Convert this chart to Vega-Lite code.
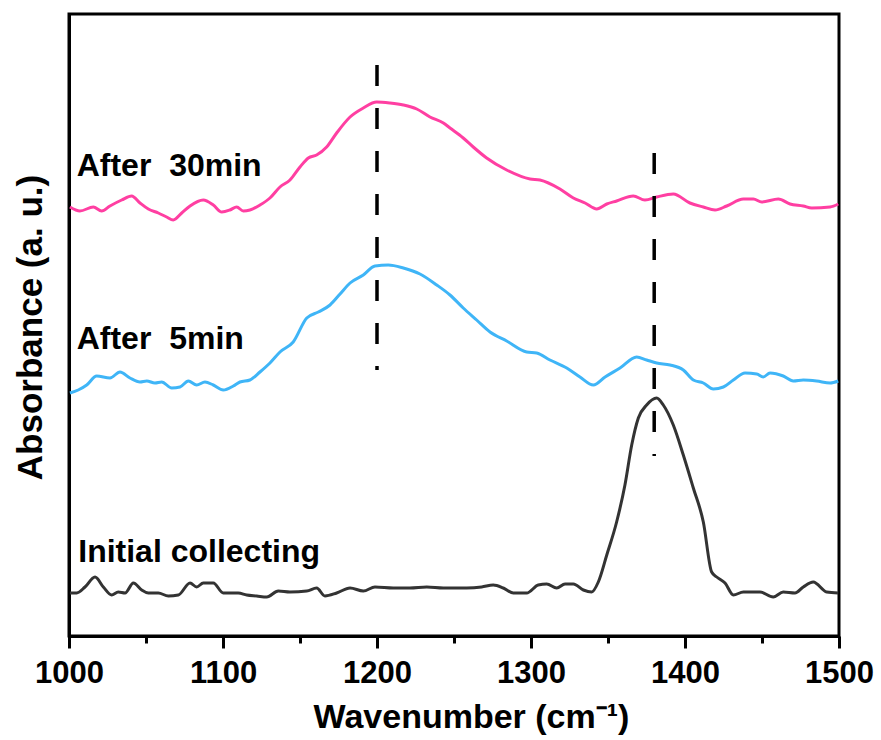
{
  "$schema": "https://vega.github.io/schema/vega-lite/v6.json",
  "width": 770,
  "height": 622,
  "autosize": "none",
  "padding": {"left": 69, "top": 14, "right": 42, "bottom": 104},
  "background": "white",
  "config": {"view": {"stroke": "black", "strokeWidth": 3}, "font": "Liberation Sans"},
  "datasets": {
    "spectra": [
      {"series": "After 30min", "wn": 1000.6, "a": 4.29},
      {"series": "After 30min", "wn": 1007.1, "a": 4.25},
      {"series": "After 30min", "wn": 1015.8, "a": 4.29},
      {"series": "After 30min", "wn": 1021.2, "a": 4.25},
      {"series": "After 30min", "wn": 1026.6, "a": 4.30},
      {"series": "After 30min", "wn": 1034.2, "a": 4.36},
      {"series": "After 30min", "wn": 1040.7, "a": 4.40},
      {"series": "After 30min", "wn": 1046.1, "a": 4.33},
      {"series": "After 30min", "wn": 1051.5, "a": 4.27},
      {"series": "After 30min", "wn": 1058.0, "a": 4.23},
      {"series": "After 30min", "wn": 1063.4, "a": 4.19},
      {"series": "After 30min", "wn": 1067.7, "a": 4.16},
      {"series": "After 30min", "wn": 1073.2, "a": 4.23},
      {"series": "After 30min", "wn": 1078.6, "a": 4.30},
      {"series": "After 30min", "wn": 1087.2, "a": 4.36},
      {"series": "After 30min", "wn": 1093.7, "a": 4.31},
      {"series": "After 30min", "wn": 1099.2, "a": 4.24},
      {"series": "After 30min", "wn": 1104.5, "a": 4.26},
      {"series": "After 30min", "wn": 1108.9, "a": 4.29},
      {"series": "After 30min", "wn": 1113.2, "a": 4.25},
      {"series": "After 30min", "wn": 1117.5, "a": 4.26},
      {"series": "After 30min", "wn": 1124.0, "a": 4.31},
      {"series": "After 30min", "wn": 1130.5, "a": 4.38},
      {"series": "After 30min", "wn": 1137.0, "a": 4.49},
      {"series": "After 30min", "wn": 1143.5, "a": 4.56},
      {"series": "After 30min", "wn": 1150.0, "a": 4.69},
      {"series": "After 30min", "wn": 1155.4, "a": 4.78},
      {"series": "After 30min", "wn": 1160.8, "a": 4.81},
      {"series": "After 30min", "wn": 1167.3, "a": 4.89},
      {"series": "After 30min", "wn": 1173.8, "a": 5.03},
      {"series": "After 30min", "wn": 1182.5, "a": 5.19},
      {"series": "After 30min", "wn": 1191.1, "a": 5.28},
      {"series": "After 30min", "wn": 1199.8, "a": 5.34},
      {"series": "After 30min", "wn": 1208.4, "a": 5.33},
      {"series": "After 30min", "wn": 1217.1, "a": 5.31},
      {"series": "After 30min", "wn": 1225.8, "a": 5.27},
      {"series": "After 30min", "wn": 1234.4, "a": 5.19},
      {"series": "After 30min", "wn": 1243.1, "a": 5.13},
      {"series": "After 30min", "wn": 1247.4, "a": 5.08},
      {"series": "After 30min", "wn": 1256.0, "a": 4.98},
      {"series": "After 30min", "wn": 1262.5, "a": 4.89},
      {"series": "After 30min", "wn": 1271.2, "a": 4.78},
      {"series": "After 30min", "wn": 1284.2, "a": 4.66},
      {"series": "After 30min", "wn": 1299.4, "a": 4.57},
      {"series": "After 30min", "wn": 1305.8, "a": 4.56},
      {"series": "After 30min", "wn": 1318.8, "a": 4.47},
      {"series": "After 30min", "wn": 1327.5, "a": 4.38},
      {"series": "After 30min", "wn": 1335.1, "a": 4.33},
      {"series": "After 30min", "wn": 1342.7, "a": 4.27},
      {"series": "After 30min", "wn": 1349.2, "a": 4.32},
      {"series": "After 30min", "wn": 1355.6, "a": 4.35},
      {"series": "After 30min", "wn": 1366.4, "a": 4.40},
      {"series": "After 30min", "wn": 1374.0, "a": 4.36},
      {"series": "After 30min", "wn": 1381.6, "a": 4.39},
      {"series": "After 30min", "wn": 1392.4, "a": 4.42},
      {"series": "After 30min", "wn": 1403.2, "a": 4.33},
      {"series": "After 30min", "wn": 1411.9, "a": 4.29},
      {"series": "After 30min", "wn": 1419.5, "a": 4.26},
      {"series": "After 30min", "wn": 1427.1, "a": 4.30},
      {"series": "After 30min", "wn": 1437.9, "a": 4.37},
      {"series": "After 30min", "wn": 1444.4, "a": 4.37},
      {"series": "After 30min", "wn": 1449.8, "a": 4.34},
      {"series": "After 30min", "wn": 1460.6, "a": 4.37},
      {"series": "After 30min", "wn": 1468.2, "a": 4.32},
      {"series": "After 30min", "wn": 1476.8, "a": 4.30},
      {"series": "After 30min", "wn": 1482.3, "a": 4.28},
      {"series": "After 30min", "wn": 1494.2, "a": 4.29},
      {"series": "After 30min", "wn": 1499.5, "a": 4.32},

      {"series": "After 5min", "wn": 1000.6, "a": 2.43},
      {"series": "After 5min", "wn": 1006.0, "a": 2.46},
      {"series": "After 5min", "wn": 1011.5, "a": 2.51},
      {"series": "After 5min", "wn": 1018.0, "a": 2.60},
      {"series": "After 5min", "wn": 1026.6, "a": 2.58},
      {"series": "After 5min", "wn": 1033.1, "a": 2.64},
      {"series": "After 5min", "wn": 1039.6, "a": 2.58},
      {"series": "After 5min", "wn": 1046.1, "a": 2.54},
      {"series": "After 5min", "wn": 1050.5, "a": 2.55},
      {"series": "After 5min", "wn": 1055.8, "a": 2.53},
      {"series": "After 5min", "wn": 1060.2, "a": 2.54},
      {"series": "After 5min", "wn": 1066.7, "a": 2.48},
      {"series": "After 5min", "wn": 1072.1, "a": 2.49},
      {"series": "After 5min", "wn": 1077.5, "a": 2.55},
      {"series": "After 5min", "wn": 1082.9, "a": 2.51},
      {"series": "After 5min", "wn": 1088.3, "a": 2.54},
      {"series": "After 5min", "wn": 1093.7, "a": 2.51},
      {"series": "After 5min", "wn": 1100.2, "a": 2.46},
      {"series": "After 5min", "wn": 1106.7, "a": 2.50},
      {"series": "After 5min", "wn": 1111.0, "a": 2.54},
      {"series": "After 5min", "wn": 1117.5, "a": 2.56},
      {"series": "After 5min", "wn": 1124.0, "a": 2.64},
      {"series": "After 5min", "wn": 1130.5, "a": 2.73},
      {"series": "After 5min", "wn": 1137.0, "a": 2.84},
      {"series": "After 5min", "wn": 1145.6, "a": 2.94},
      {"series": "After 5min", "wn": 1154.4, "a": 3.18},
      {"series": "After 5min", "wn": 1161.9, "a": 3.24},
      {"series": "After 5min", "wn": 1169.5, "a": 3.31},
      {"series": "After 5min", "wn": 1176.0, "a": 3.42},
      {"series": "After 5min", "wn": 1182.5, "a": 3.53},
      {"series": "After 5min", "wn": 1191.1, "a": 3.61},
      {"series": "After 5min", "wn": 1198.7, "a": 3.70},
      {"series": "After 5min", "wn": 1207.3, "a": 3.71},
      {"series": "After 5min", "wn": 1217.1, "a": 3.68},
      {"series": "After 5min", "wn": 1227.9, "a": 3.62},
      {"series": "After 5min", "wn": 1238.8, "a": 3.51},
      {"series": "After 5min", "wn": 1247.4, "a": 3.41},
      {"series": "After 5min", "wn": 1256.0, "a": 3.28},
      {"series": "After 5min", "wn": 1264.7, "a": 3.16},
      {"series": "After 5min", "wn": 1273.4, "a": 3.04},
      {"series": "After 5min", "wn": 1284.2, "a": 2.95},
      {"series": "After 5min", "wn": 1297.2, "a": 2.84},
      {"series": "After 5min", "wn": 1303.7, "a": 2.83},
      {"series": "After 5min", "wn": 1312.3, "a": 2.76},
      {"series": "After 5min", "wn": 1323.2, "a": 2.68},
      {"series": "After 5min", "wn": 1331.8, "a": 2.59},
      {"series": "After 5min", "wn": 1340.5, "a": 2.51},
      {"series": "After 5min", "wn": 1348.1, "a": 2.59},
      {"series": "After 5min", "wn": 1357.8, "a": 2.68},
      {"series": "After 5min", "wn": 1368.6, "a": 2.79},
      {"series": "After 5min", "wn": 1375.1, "a": 2.76},
      {"series": "After 5min", "wn": 1381.6, "a": 2.73},
      {"series": "After 5min", "wn": 1390.3, "a": 2.71},
      {"series": "After 5min", "wn": 1398.9, "a": 2.66},
      {"series": "After 5min", "wn": 1405.4, "a": 2.56},
      {"series": "After 5min", "wn": 1411.9, "a": 2.53},
      {"series": "After 5min", "wn": 1418.4, "a": 2.47},
      {"series": "After 5min", "wn": 1424.9, "a": 2.49},
      {"series": "After 5min", "wn": 1431.4, "a": 2.56},
      {"series": "After 5min", "wn": 1439.0, "a": 2.63},
      {"series": "After 5min", "wn": 1446.6, "a": 2.62},
      {"series": "After 5min", "wn": 1450.8, "a": 2.59},
      {"series": "After 5min", "wn": 1455.2, "a": 2.63},
      {"series": "After 5min", "wn": 1463.8, "a": 2.60},
      {"series": "After 5min", "wn": 1470.3, "a": 2.55},
      {"series": "After 5min", "wn": 1476.8, "a": 2.56},
      {"series": "After 5min", "wn": 1485.5, "a": 2.55},
      {"series": "After 5min", "wn": 1494.2, "a": 2.53},
      {"series": "After 5min", "wn": 1499.5, "a": 2.55},

      {"series": "Initial collecting", "wn": 1000.6, "a": 0.43},
      {"series": "Initial collecting", "wn": 1005.0, "a": 0.43},
      {"series": "Initial collecting", "wn": 1010.4, "a": 0.49},
      {"series": "Initial collecting", "wn": 1016.9, "a": 0.59},
      {"series": "Initial collecting", "wn": 1022.3, "a": 0.49},
      {"series": "Initial collecting", "wn": 1027.7, "a": 0.41},
      {"series": "Initial collecting", "wn": 1032.0, "a": 0.44},
      {"series": "Initial collecting", "wn": 1036.4, "a": 0.43},
      {"series": "Initial collecting", "wn": 1041.8, "a": 0.53},
      {"series": "Initial collecting", "wn": 1047.2, "a": 0.46},
      {"series": "Initial collecting", "wn": 1051.5, "a": 0.43},
      {"series": "Initial collecting", "wn": 1058.0, "a": 0.43},
      {"series": "Initial collecting", "wn": 1064.5, "a": 0.40},
      {"series": "Initial collecting", "wn": 1071.0, "a": 0.41},
      {"series": "Initial collecting", "wn": 1078.6, "a": 0.53},
      {"series": "Initial collecting", "wn": 1082.9, "a": 0.49},
      {"series": "Initial collecting", "wn": 1087.2, "a": 0.53},
      {"series": "Initial collecting", "wn": 1093.7, "a": 0.53},
      {"series": "Initial collecting", "wn": 1100.2, "a": 0.43},
      {"series": "Initial collecting", "wn": 1109.9, "a": 0.43},
      {"series": "Initial collecting", "wn": 1115.4, "a": 0.41},
      {"series": "Initial collecting", "wn": 1121.9, "a": 0.40},
      {"series": "Initial collecting", "wn": 1128.4, "a": 0.39},
      {"series": "Initial collecting", "wn": 1135.9, "a": 0.45},
      {"series": "Initial collecting", "wn": 1143.5, "a": 0.44},
      {"series": "Initial collecting", "wn": 1154.4, "a": 0.45},
      {"series": "Initial collecting", "wn": 1160.8, "a": 0.48},
      {"series": "Initial collecting", "wn": 1166.2, "a": 0.40},
      {"series": "Initial collecting", "wn": 1173.8, "a": 0.43},
      {"series": "Initial collecting", "wn": 1182.5, "a": 0.48},
      {"series": "Initial collecting", "wn": 1191.1, "a": 0.45},
      {"series": "Initial collecting", "wn": 1198.7, "a": 0.49},
      {"series": "Initial collecting", "wn": 1210.6, "a": 0.48},
      {"series": "Initial collecting", "wn": 1221.4, "a": 0.48},
      {"series": "Initial collecting", "wn": 1232.3, "a": 0.49},
      {"series": "Initial collecting", "wn": 1243.1, "a": 0.48},
      {"series": "Initial collecting", "wn": 1258.2, "a": 0.48},
      {"series": "Initial collecting", "wn": 1268.0, "a": 0.49},
      {"series": "Initial collecting", "wn": 1275.5, "a": 0.51},
      {"series": "Initial collecting", "wn": 1282.0, "a": 0.48},
      {"series": "Initial collecting", "wn": 1288.5, "a": 0.43},
      {"series": "Initial collecting", "wn": 1297.2, "a": 0.43},
      {"series": "Initial collecting", "wn": 1304.7, "a": 0.51},
      {"series": "Initial collecting", "wn": 1310.2, "a": 0.52},
      {"series": "Initial collecting", "wn": 1316.7, "a": 0.48},
      {"series": "Initial collecting", "wn": 1322.1, "a": 0.52},
      {"series": "Initial collecting", "wn": 1327.5, "a": 0.52},
      {"series": "Initial collecting", "wn": 1334.0, "a": 0.46},
      {"series": "Initial collecting", "wn": 1339.4, "a": 0.44},
      {"series": "Initial collecting", "wn": 1343.7, "a": 0.54},
      {"series": "Initial collecting", "wn": 1349.2, "a": 0.81},
      {"series": "Initial collecting", "wn": 1355.6, "a": 1.14},
      {"series": "Initial collecting", "wn": 1361.0, "a": 1.51},
      {"series": "Initial collecting", "wn": 1365.4, "a": 1.91},
      {"series": "Initial collecting", "wn": 1369.7, "a": 2.18},
      {"series": "Initial collecting", "wn": 1375.1, "a": 2.31},
      {"series": "Initial collecting", "wn": 1381.6, "a": 2.38},
      {"series": "Initial collecting", "wn": 1385.9, "a": 2.31},
      {"series": "Initial collecting", "wn": 1392.4, "a": 2.11},
      {"series": "Initial collecting", "wn": 1398.9, "a": 1.81},
      {"series": "Initial collecting", "wn": 1405.4, "a": 1.48},
      {"series": "Initial collecting", "wn": 1411.9, "a": 1.14},
      {"series": "Initial collecting", "wn": 1417.3, "a": 0.64},
      {"series": "Initial collecting", "wn": 1420.6, "a": 0.59},
      {"series": "Initial collecting", "wn": 1426.0, "a": 0.53},
      {"series": "Initial collecting", "wn": 1431.4, "a": 0.41},
      {"series": "Initial collecting", "wn": 1437.9, "a": 0.44},
      {"series": "Initial collecting", "wn": 1448.7, "a": 0.44},
      {"series": "Initial collecting", "wn": 1457.3, "a": 0.39},
      {"series": "Initial collecting", "wn": 1463.8, "a": 0.44},
      {"series": "Initial collecting", "wn": 1471.4, "a": 0.43},
      {"series": "Initial collecting", "wn": 1476.8, "a": 0.49},
      {"series": "Initial collecting", "wn": 1483.3, "a": 0.54},
      {"series": "Initial collecting", "wn": 1492.0, "a": 0.44},
      {"series": "Initial collecting", "wn": 1499.5, "a": 0.43}
    ],
    "markers": [
      {"wn": 1200, "top": 5.71, "bottom": 2.66},
      {"wn": 1380, "top": 4.83, "bottom": 1.80}
    ],
    "labels": [
      {"label": "After\u00a0 30min", "wn": 1005, "a": 4.60},
      {"label": "After\u00a0 5min", "wn": 1005, "a": 2.87},
      {"label": "Initial collecting", "wn": 1006, "a": 0.74}
    ]
  },
  "layer": [
    {
      "data": {"name": "spectra"},
      "mark": {"type": "line", "strokeWidth": 3, "interpolate": "monotone"},
      "encoding": {
        "x": {
          "field": "wn", "type": "quantitative",
          "scale": {"domain": [1000, 1500], "nice": false, "zero": false},
          "axis": {
            "title": "Wavenumber (cm⁻¹)",
            "values": [1000, 1050, 1100, 1150, 1200, 1250, 1300, 1350, 1400, 1450, 1500],
            "format": "d",
            "labelExpr": "datum.value % 100 === 0 ? datum.label : ''",
            "tickSize": {"condition": {"test": "datum.value % 100 === 0", "value": 12}, "value": 7},
            "tickWidth": 3, "tickColor": "black",
            "domainColor": "black", "domainWidth": 3,
            "grid": false, "labelFlush": false, "labelOverlap": false,
            "labelFont": "Liberation Sans", "labelFontWeight": "bold", "labelFontSize": 31,
            "labelColor": "black", "labelPadding": 10,
            "titleFont": "Liberation Sans", "titleFontWeight": "bold", "titleFontSize": 34,
            "titleColor": "black", "titleX": 402, "titleY": 91,
            "titleBaseline": "alphabetic", "titleAlign": "center"
          }
        },
        "y": {
          "field": "a", "type": "quantitative",
          "scale": {"domain": [0, 6.22], "nice": false, "zero": false},
          "axis": {
            "title": "Absorbance (a. u.)",
            "ticks": false, "labels": false, "grid": false,
            "domainColor": "black", "domainWidth": 3,
            "titleFont": "Liberation Sans", "titleFontWeight": "bold", "titleFontSize": 35,
            "titleColor": "black", "titleX": -39, "titleY": 313, "titleAngle": -90,
            "titleBaseline": "middle", "titleAlign": "center"
          }
        },
        "color": {
          "field": "series", "type": "nominal",
          "scale": {"domain": ["Initial collecting", "After 5min", "After 30min"], "range": ["#333333", "#3FB5F7", "#FF3FA2"]},
          "legend": null
        }
      }
    },
    {
      "data": {"name": "markers"},
      "mark": {"type": "rule", "color": "black", "strokeWidth": 3.5, "strokeDash": [21, 22]},
      "encoding": {
        "x": {"field": "wn", "type": "quantitative"},
        "y": {"field": "top", "type": "quantitative"},
        "y2": {"field": "bottom"}
      }
    },
    {
      "data": {"name": "labels"},
      "mark": {"type": "text", "align": "left", "baseline": "alphabetic", "font": "Liberation Sans", "fontWeight": "bold", "fontSize": 32, "color": "black"},
      "encoding": {
        "x": {"field": "wn", "type": "quantitative"},
        "y": {"field": "a", "type": "quantitative"},
        "text": {"field": "label"}
      }
    }
  ]
}
